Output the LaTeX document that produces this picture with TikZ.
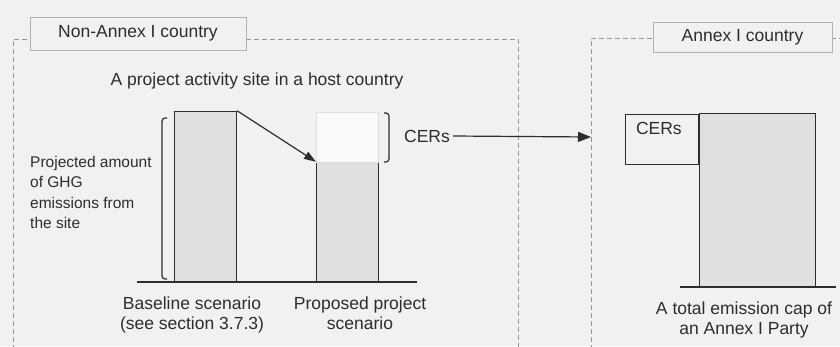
\documentclass[tikz,border=0pt]{standalone}
\usepackage{fontspec}
\setmainfont{Liberation Sans}
\usetikzlibrary{arrows.meta}
\definecolor{pagebg}{RGB}{241,241,241}
\definecolor{barfill}{RGB}{224,224,224}
\definecolor{ink}{RGB}{45,45,45}
\definecolor{dashgray}{RGB}{150,150,150}
\tikzset{
  txt/.style={text=ink, inner sep=0pt, font=\fontsize{17.5}{20}\selectfont},
  bar/.style={draw=ink, line width=1.2pt, fill=barfill, inner sep=0pt, anchor=south west},
  tagbox/.style={txt, draw=gray!60, line width=0.8pt, fill=pagebg},
  dashline/.style={draw=dashgray, line width=0.7pt, dash pattern=on 5pt off 3pt},
  ground/.style={draw=ink, line width=1.2pt},
}

\begin{document}
\begin{tikzpicture}[x=1pt, y=-1pt]
\useasboundingbox (0,0) rectangle (840,346);
\fill[pagebg] (0,0) rectangle (840,346);

\draw[dashline] (13,350) -- (13,39) -- (518,39) -- (518,350);
\draw[dashline] (591,350) -- (591,38) -- (845,38);
\node[tagbox, minimum width=216, minimum height=33] (nonannex) at (138,33.5) {Non-Annex I country};
\node[tagbox, minimum width=179, minimum height=30] (annex) at (742.5,37) {Annex I country};

\node[txt, anchor=north] (site) at (257,73) {A project activity site in a host country};

\draw[ground] (137,282) -- (417,282);
\node[bar, minimum width=62, minimum height=170] (baseline) at (174,282) {};
\node[bar, minimum width=62, minimum height=119] (proposed) at (316,282) {};
\node[bar, draw=gray!25, line width=0.8pt, fill=white!55!pagebg, minimum width=62, minimum height=50] (saved) at (316,163) {};
\draw[ink, line width=1.2pt, -{Triangle[length=12pt, width=8pt]}] (baseline.north east) -- (proposed.north west);

\draw[ink, line width=1.2pt, rounded corners=3pt] (167,118) -| (162,279) -- (167,279);
\draw[ink, line width=1.2pt, rounded corners=3pt] (384,113) -| (389,162) -- (384,162);

\node[txt, anchor=north west, align=left, font=\fontsize{15.5}{20.4}\selectfont] (amount) at (30,156)
  {Projected amount\\of GHG\\emissions from\\the site};
\node[txt, anchor=north, align=center] (baselabel) at (192,297) {Baseline scenario\\(see section 3.7.3)};
\node[txt, anchor=north, align=center] (proplabel) at (360,297) {Proposed project\\scenario};

\node[txt] (cers) at (427,136) {CERs};
\coordinate (annexedge) at (591,137);
\draw[ink, line width=1.2pt, -{Triangle[length=13pt, width=10pt]}] (cers.east) ++(3,0) -- (annexedge);

\draw[ground] (680,287) -- (836,287);
\node[bar, fill=pagebg, anchor=north east, minimum width=73, minimum height=50,
  label={[txt, anchor=north west, xshift=11pt, yshift=-8pt]north west:CERs}] (credit) at (699,114) {};
\node[bar, minimum width=116, minimum height=173] (cap) at (699,287) {};
\node[txt, anchor=north, align=center] (caplabel) at (744,302) {A total emission cap of\\an Annex I Party};
\end{tikzpicture}
\end{document}
